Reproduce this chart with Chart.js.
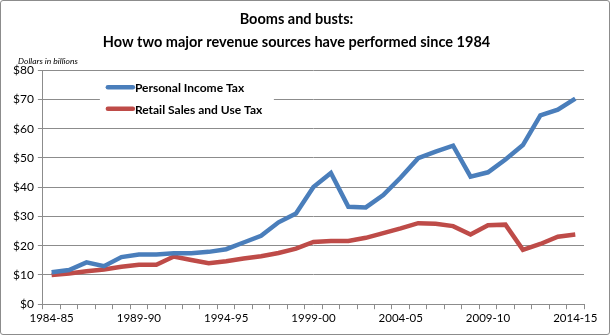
<!DOCTYPE html>
<html>
<head>
<meta charset="utf-8">
<script src="https://cdn.jsdelivr.net/npm/chart.js@4"></script>
<style>
  html, body { margin: 0; padding: 0; background: #fff; }
  #marco { width: 610px; height: 335px; box-sizing: border-box; border: 1px solid #8c8c8c; border-radius: 3px; }
</style>
</head>
<body>
<div id="marco"><canvas id="grafica" width="608" height="333"></canvas></div>
<script>
const anios = ['1984-85','1985-86','1986-87','1987-88','1988-89','1989-90','1990-91','1991-92','1992-93','1993-94',
  '1994-95','1995-96','1996-97','1997-98','1998-99','1999-00','2000-01','2001-02','2002-03','2003-04',
  '2004-05','2005-06','2006-07','2007-08','2008-09','2009-10','2010-11','2011-12','2012-13','2013-14','2014-15'];

const impuestoRenta = [10.9, 11.7, 14.3, 13.0, 16.1, 17.0, 17.0, 17.4, 17.4, 17.9,
  18.8, 21.1, 23.4, 28.0, 31.0, 40.1, 44.9, 33.3, 33.1, 37.3,
  43.3, 49.9, 52.2, 54.2, 43.6, 45.1, 49.5, 54.4, 64.6, 66.5, 70.3];

const impuestoVentas = [10.0, 10.5, 11.3, 11.9, 12.8, 13.5, 13.5, 16.3, 15.1, 14.0,
  14.7, 15.6, 16.4, 17.5, 19.0, 21.3, 21.6, 21.6, 22.7, 24.3,
  25.9, 27.7, 27.5, 26.7, 23.8, 27.0, 27.2, 18.6, 20.6, 23.1, 23.8];

const etiquetasY = [0, 10, 20, 30, 40, 50, 60, 70, 80];

const fuente = 'Lato, "Open Sans", sans-serif';

// leyenda dentro del area de datos, con fondo blanco, y la nota de unidades
const leyendaInterna = {
    id: 'leyendaInterna',
    afterDatasetsDraw(chart) {
        const ctx = chart.ctx;
        const area = chart.chartArea;
        const x0 = area.left + 57;
        const y0 = area.top + 17;
        ctx.save();
        ctx.fillStyle = '#fff';
        ctx.fillRect(x0, y0 - 9, 174, 42);
        chart.data.datasets.forEach((ds, i) => {
            const y = y0 + i * 21.5;
            ctx.strokeStyle = ds.borderColor;
            ctx.lineWidth = 4.5;
            ctx.lineCap = 'round';
            ctx.beginPath();
            ctx.moveTo(x0 + 8, y);
            ctx.lineTo(x0 + 33, y);
            ctx.stroke();
            ctx.fillStyle = '#000';
            ctx.font = 'bold 12px ' + fuente;
            ctx.textBaseline = 'middle';
            ctx.fillText(ds.label, x0 + 35, y + 1);
        });
        ctx.font = 'italic 8.5px ' + fuente;
        ctx.fillStyle = '#000';
        ctx.textBaseline = 'middle';
        ctx.fillText('Dollars in billions', 17, area.top - 9);
        ctx.restore();
    }
};

document.addEventListener('DOMContentLoaded', function () {
    const ctx = document.getElementById('grafica').getContext('2d');
    new Chart(ctx, {
        type: 'line',
        data: {
            labels: anios,
            datasets: [{
                label: 'Personal Income Tax',
                data: impuestoRenta,
                borderColor: '#4a7ebb',
                borderWidth: 4.5,
                pointRadius: 0,
                tension: 0
            }, {
                label: 'Retail Sales and Use Tax',
                data: impuestoVentas,
                borderColor: '#be4b48',
                borderWidth: 4.5,
                pointRadius: 0,
                tension: 0
            }]
        },
        options: {
            responsive: false,
            animation: false,
            layout: { padding: { left: 8, right: 25, top: 3, bottom: 7 } },
            plugins: {
                legend: { display: false },
                tooltip: { enabled: false },
                title: {
                    display: true,
                    text: ['Booms and busts:', 'How two major revenue sources have performed since 1984'],
                    color: '#000',
                    font: { family: fuente, size: 14.5, weight: 'bold', lineHeight: 1.56 },
                    padding: { top: 4, bottom: 17 }
                }
            },
            scales: {
                x: {
                    offset: true,
                    grid: {
                        offset: true,
                        drawOnChartArea: false,
                        tickLength: 5,
                        color: '#8c8c8c'
                    },
                    border: { color: '#8c8c8c' },
                    ticks: {
                        autoSkip: false,
                        maxRotation: 0,
                        color: '#000',
                        padding: 2,
                        font: { family: fuente, size: 11.5 },
                        callback: function (valor, indice) {
                            return indice % 5 === 0 ? anios[indice] : '';
                        }
                    }
                },
                y: {
                    min: etiquetasY[0],
                    max: etiquetasY[etiquetasY.length - 1],
                    afterBuildTicks: function (eje) {
                        eje.ticks = etiquetasY.map(v => ({ value: v }));
                    },
                    grid: { color: '#8c8c8c', tickLength: 5 },
                    border: { color: '#8c8c8c' },
                    ticks: {
                        color: '#000',
                        padding: 4,
                        font: { family: fuente, size: 12 },
                        callback: v => '$' + v
                    }
                }
            }
        },
        plugins: [leyendaInterna]
    });
});
</script>
</body>
</html>
